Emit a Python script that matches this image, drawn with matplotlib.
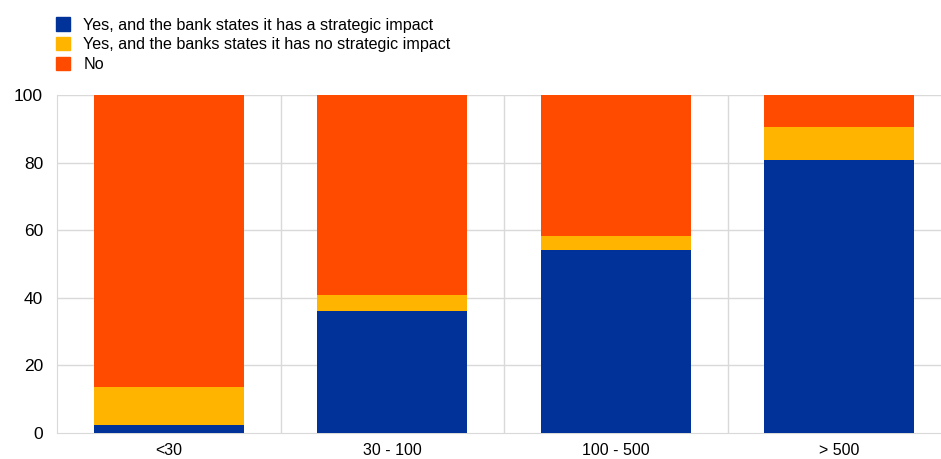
import matplotlib
matplotlib.use("Agg")
import matplotlib.pyplot as plt
from matplotlib.patches import Patch
import numpy as np

BLUE = "#003299"
YELLOW = "#FFB400"
RED = "#FF4B00"
GRID = "#d9d9d9"

categories = ["<30", "30 - 100", "100 - 500", "> 500"]
strategic = [2.5, 36.0, 54.0, 80.7]
no_strategic = [11.2, 4.7, 4.2, 9.8]
no = [86.3, 59.3, 41.8, 9.5]

labels = [
    "Yes, and the bank states it has a strategic impact",
    "Yes, and the banks states it has no strategic impact",
    "No",
]

plt.rcParams["font.family"] = ["Liberation Sans", "DejaVu Sans"]

fig = plt.figure(figsize=(9.41, 4.59), dpi=100)
ax = fig.add_axes([57 / 941, 1 - 433 / 459, (941 - 57) / 941, (433 - 95) / 459])

x = np.arange(len(categories))
w = 0.67
s = np.array(strategic)
n = np.array(no_strategic)
ax.bar(x, s, width=w, color=BLUE, zorder=3)
ax.bar(x, n, width=w, bottom=s, color=YELLOW, zorder=3)
ax.bar(x, no, width=w, bottom=s + n, color=RED, zorder=3)

ax.set_xlim(-0.5, 3.455)
ax.set_ylim(0, 100)
ax.set_yticks(range(0, 101, 20))
ax.set_xticks(x)
ax.set_xticklabels(categories)
ax.tick_params(length=0, labelsize=11.5, colors="#000000", pad=7)
ax.tick_params(axis="y", pad=10, labelsize=12.5)

for yv in range(20, 101, 20):
    ax.axhline(yv, color=GRID, linewidth=1, zorder=1)
for xv in np.arange(0.5, 3.5, 1.0):
    ax.axvline(xv, color=GRID, linewidth=1, zorder=1)

for side in ["top", "right"]:
    ax.spines[side].set_visible(False)
ax.spines["left"].set_color(GRID)
ax.spines["bottom"].set_color(GRID)

handles = [Patch(color=c) for c in (BLUE, YELLOW, RED)]
fig.legend(handles, labels, loc="upper left", bbox_to_anchor=(50 / 941, 1 - 11 / 459),
           frameon=False, fontsize=11.6, handlelength=0.87, handleheight=0.87,
           handletextpad=0.8, labelspacing=0.28, borderaxespad=0)

fig.savefig("out.png", dpi=100)
